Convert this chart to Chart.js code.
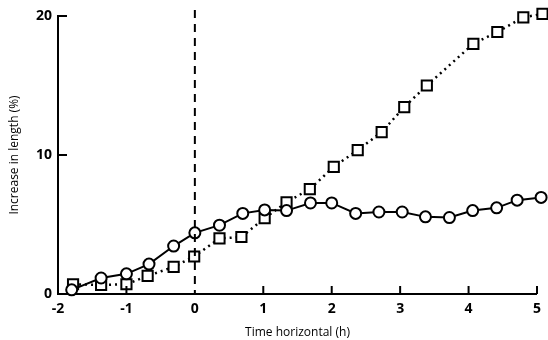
<!DOCTYPE html>
<html>
<head>
<meta charset="utf-8">
<script src="https://cdn.jsdelivr.net/npm/chart.js@4.4.0/dist/chart.umd.min.js"></script>
<style>
  html, body { margin: 0; padding: 0; background: #fff; }
  #wrap { width: 548px; height: 340px; position: relative; }
</style>
</head>
<body>
<div id="wrap"><canvas id="chart"></canvas></div>
<script>
// Circles (solid line)
const timeCircles = [-1.8, -1.37, -1.0, -0.67, -0.31, 0.0, 0.36, 0.70, 1.02, 1.34, 1.69, 2.0, 2.35, 2.69, 3.03, 3.37, 3.72, 4.06, 4.41, 4.71, 5.06];
const lengthCircles = [0.3, 1.15, 1.45, 2.15, 3.45, 4.4, 4.95, 5.8, 6.05, 6.0, 6.55, 6.55, 5.8, 5.9, 5.9, 5.55, 5.5, 6.0, 6.2, 6.75, 6.95];

// Squares (dotted line)
const timeSquares = [-1.78, -1.37, -1.0, -0.69, -0.31, -0.01, 0.36, 0.68, 1.02, 1.34, 1.68, 2.03, 2.38, 2.73, 3.06, 3.39, 4.07, 4.42, 4.80, 5.08];
const lengthSquares = [0.7, 0.65, 0.7, 1.3, 1.95, 2.7, 4.0, 4.1, 5.45, 6.6, 7.55, 9.15, 10.35, 11.65, 13.45, 15.0, 18.0, 18.85, 19.9, 20.15];

// Axis ticks
const xTickValues = [-2, -1, 0, 1, 2, 3, 4, 5];
const yTickValues = [0, 10, 20];
const xInnerTicks = [-1, 1, 2, 3, 4, 5];
const yInnerTicks = [10, 20];

const FONT = '"Open Sans", "DejaVu Sans", sans-serif';

const toPoints = (xs, ys) => xs.map((x, i) => ({ x, y: ys[i] }));

// Draws the dashed line at t = 0 and the inward tick marks
const markPlugin = {
    id: 'marks',
    afterDatasetsDraw(chart) {
        const ctx = chart.ctx;
        const xs = chart.scales.x;
        const ys = chart.scales.y;
        const area = chart.chartArea;
        ctx.save();
        ctx.strokeStyle = '#000';

        // dashed vertical at zero
        const x0 = xs.getPixelForValue(0);
        ctx.lineWidth = 2;
        ctx.setLineDash([8, 6]);
        ctx.beginPath();
        ctx.moveTo(x0, area.top - 6);
        ctx.lineTo(x0, area.bottom);
        ctx.stroke();
        ctx.setLineDash([]);

        // inward ticks
        ctx.lineWidth = 2;
        xInnerTicks.forEach(v => {
            const px = xs.getPixelForValue(v);
            ctx.beginPath();
            ctx.moveTo(px, area.bottom);
            ctx.lineTo(px, area.bottom - 8);
            ctx.stroke();
        });
        yInnerTicks.forEach(v => {
            const py = ys.getPixelForValue(v);
            ctx.beginPath();
            ctx.moveTo(area.left, py);
            ctx.lineTo(area.left + 9, py);
            ctx.stroke();
        });
        ctx.restore();
    }
};

new Chart(document.getElementById('chart'), {
    type: 'scatter',
    data: {
        datasets: [
            {
                data: toPoints(timeCircles, lengthCircles),
                showLine: true,
                borderColor: '#000',
                borderWidth: 2,
                pointStyle: 'circle',
                pointRadius: 5.5,
                pointBorderWidth: 2,
                pointBackgroundColor: '#fff',
                pointBorderColor: '#000',
                clip: false,
                order: 1
            },
            {
                data: toPoints(timeSquares, lengthSquares),
                showLine: true,
                borderColor: '#000',
                borderWidth: 2.5,
                borderDash: [2, 4],
                pointStyle: 'rect',
                pointRadius: 7.2,
                pointBorderWidth: 2,
                pointBackgroundColor: '#fff',
                pointBorderColor: '#000',
                clip: false,
                order: 2
            }
        ]
    },
    options: {
        responsive: true,
        maintainAspectRatio: false,
        animation: false,
        layout: { padding: { top: 16, right: 8, left: 0, bottom: 0 } },
        plugins: {
            legend: { display: false },
            tooltip: { enabled: false }
        },
        scales: {
            x: {
                type: 'linear',
                min: -2,
                max: 5,
                afterBuildTicks: s => { s.ticks = xTickValues.map(v => ({ value: v })); },
                afterFit: s => { s.height = 46; },
                grid: { display: false, drawTicks: false },
                border: { display: true, color: '#000', width: 2 },
                ticks: {
                    color: '#000',
                    padding: 7,
                    maxRotation: 0,
                    font: { family: FONT, size: 14, weight: 'bold' },
                    callback: v => (v < 0 ? '-' + Math.abs(v) : String(v))
                },
                title: {
                    display: true,
                    text: 'Time horizontal (h)',
                    color: '#000',
                    padding: { top: 0, bottom: 0 },
                    font: { family: FONT, size: 12 }
                }
            },
            y: {
                type: 'linear',
                min: 0,
                max: 20,
                afterBuildTicks: s => { s.ticks = yTickValues.map(v => ({ value: v })); },
                afterFit: s => { s.width = 58; },
                grid: { display: false, drawTicks: false },
                border: { display: true, color: '#000', width: 2 },
                ticks: {
                    color: '#000',
                    padding: 6,
                    font: { family: FONT, size: 14, weight: 'bold' }
                },
                title: {
                    display: true,
                    text: 'Increase in length (%)',
                    color: '#000',
                    padding: { top: 7, bottom: 0 },
                    font: { family: FONT, size: 12 }
                }
            }
        }
    },
    plugins: [markPlugin]
});
</script>
</body>
</html>
